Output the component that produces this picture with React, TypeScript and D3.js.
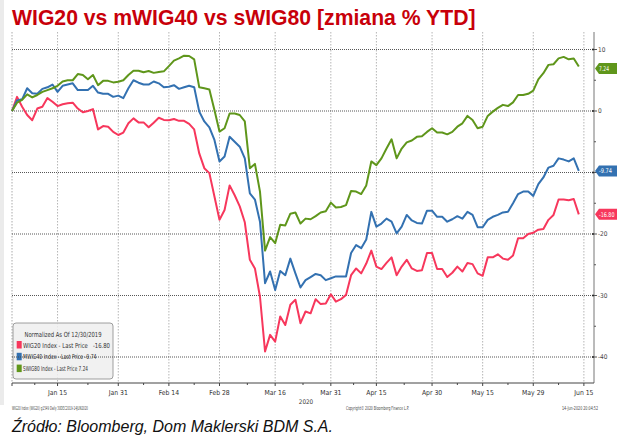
import React from "react";
import * as d3 from "d3";

// ---- data (trading days from 30 Dec 2019, normalized % change) ----
const START = "2019-12-30";
const END = "2020-06-17";
const HOLIDAYS = ["2019-12-31", "2020-01-01", "2020-01-06", "2020-04-10", "2020-04-13", "2020-05-01", "2020-06-11"];

const WIG20 = [
  0, 2.3, 0.7, -0.65, -1.5, 0.4, 0.7, 2.1, 1.5, 0.8, 1.1, 1.25, 1.35, 0.4, -0.2, 0, 0.3, -3.0, -2.45, -2.55,
  -3.4, -3.9, -3.5, -2.0, -1.2, -1.85, -1.85, -2.65, -1.9, -1.1, -1.45, -1.5, -1.3, -1.6, -1.6, -2.1, -3.0, -6.9, -9.3, -10.1,
  -13.9, -17.7, -16.1, -12.1, -13.7, -15.5, -18.1, -24.2, -25.6, -30.2, -39.1, -36.4, -37.5, -33.4, -34.8, -31.5, -30.7, -34.5, -32.6, -32.9,
  -30.6, -31.4, -31.3, -29.8, -31.0, -30.6, -29.9, -26.7, -25.6, -26.4, -24.8, -22.7, -25.3, -25.7, -24.7, -23.8, -26.7, -25.3, -24.2, -25.6,
  -26.0, -25.9, -23.1, -23.1, -25.7, -25.7, -27.0, -26.3, -25.3, -26.1, -24.7, -24.9, -26.4, -26.8, -23.8, -23.8, -23.3, -24.0, -24.2, -23.5,
  -20.7, -20.7, -20.0, -19.8, -19.3, -19.2, -17.7, -16.9, -14.4, -14.4, -14.5, -14.3, -16.8,
];
const MWIG40 = [
  0, 1.7, 1.9, 3.7, 2.9, 2.8, 3.6, 3.85, 4.3, 3.1, 4.1, 4.3, 4.5, 3.4, 3.4, 3.4, 4.1, 3.0, 2.8, 2.8,
  2.3, 2.5, 2.1, 3.7, 5.0, 4.6, 4.3, 4.3, 4.8, 4.5, 3.85, 3.95, 4.2, 3.6, 3.85, 4.1, 3.85, -0.1, -1.7, -2.65,
  -4.7, -8.2, -7.4, -4.2, -5.0, -5.8, -7.7, -13.4, -14.4, -18.0, -28.0, -26.1, -29.1, -26.0, -26.7, -24.0, -26.4, -28.7, -27.5, -27.0,
  -26.5, -26.7, -27.5, -27.2, -26.9, -26.9, -26.9, -23.1, -21.8, -22.3, -20.9, -16.4, -18.8, -18.3, -17.5, -18.0, -19.9, -18.8, -16.9, -17.8,
  -18.2, -18.3, -16.2, -16.2, -17.2, -17.2, -18.0, -17.6, -17.1, -17.5, -16.4, -16.9, -18.9, -18.9, -17.7, -17.2, -16.9, -16.5, -16.4, -15.0,
  -13.5, -13.1, -13.1, -13.8, -11.9, -10.8, -9.2, -8.9, -7.7, -7.9, -8.2, -7.7, -9.74,
];
const SWIG80 = [
  0, 1.35, 1.8, 2.7, 2.2, 2.6, 3.1, 3.4, 3.7, 4.1, 4.8, 5.0, 5.0, 6.0, 5.85, 5.15, 5.85, 4.2, 4.9, 4.9,
  4.65, 4.75, 5.0, 5.85, 6.55, 6.55, 6.3, 6.5, 6.2, 6.35, 6.45, 7.3, 8.2, 8.55, 9.0, 8.95, 8.4, 3.85, 3.7, 3.5,
  0.15, -3.35, -2.8, -0.4, -0.4, -0.65, -1.7, -9.3, -8.6, -13.1, -22.7, -20.5, -21.5, -18.5, -18.6, -16.7, -16.5, -18.3, -17.5, -17.6,
  -17.1, -16.5, -16.3, -14.9, -15.7, -15.6, -15.3, -13.0, -13.1, -13.5, -12.1, -8.2, -8.8, -7.7, -6.1, -4.6, -7.7, -6.1, -5.1, -4.8,
  -4.2, -4.1, -3.4, -2.8, -3.5, -3.5, -3.8, -3.4, -2.55, -2.0, -0.8, -1.45, -2.8, -2.55, -0.8, -0.1, 0.5, 1.0, 0.8, 1.4,
  2.6, 2.6, 2.8, 3.3, 5.15, 6.15, 7.5, 7.6, 8.55, 8.8, 8.4, 8.55, 7.24,
];

const SERIES_NAMES = ["WIG20 Index - Last Price", "MWIG40 Index - Last Price", "SWIG80 Index - Last Price"];
const LAST_LABELS = ["-16.80", "-9.74", "7.24"];
const TICK_DATES = ["2020-01-15", "2020-01-31", "2020-02-14", "2020-02-28", "2020-03-16", "2020-03-31", "2020-04-15", "2020-04-30", "2020-05-15", "2020-05-29", "2020-06-15"];
const Y_TICKS = [10, 0, -10, -20, -30, -40];
const Y_MINOR = [5, -5, -15, -25, -35];

const TITLE = "WIG20 vs mWIG40 vs sWIG80 [zmiana % YTD]";
const SOURCE = "Źródło: Bloomberg, Dom Maklerski BDM S.A.";

const COLORS = ["#f7375c", "#3371b1", "#5f961b"];

// trading-day calendar
const parse = d3.utcParse("%Y-%m-%d");
const fmtKey = d3.utcFormat("%Y-%m-%d");
const days: Date[] = d3.utcDays(parse(START)!, d3.utcDay.offset(parse(END)!, 1)).filter(
  (d) => d.getUTCDay() !== 0 && d.getUTCDay() !== 6 && !HOLIDAYS.includes(fmtKey(d))
);
const idxOf = (s: string) => days.findIndex((d) => fmtKey(d) === s);

export default function App() {
  const W = 617, H = 437;
  const left = 12, right = 594, top = 32, bottom = 383;
  const x = d3.scaleLinear().domain([0, days.length - 1]).range([left, right]);
  const y = d3.scaleLinear().domain([10, -40]).range([49.5, 357]);
  const line = d3.line<number>().x((_, i) => x(i)).y((v) => y(v));
  const tickIdx = TICK_DATES.map(idxOf);
  const fmtTick = d3.utcFormat("%b %-d");
  const minorIdx = [0, ...tickIdx].slice(0, -1).map((t, k) => (t + tickIdx[k]) / 2);
  const series = [WIG20, MWIG40, SWIG80];
  const small = "'DejaVu Sans Condensed', 'Liberation Sans Narrow', 'Liberation Sans', sans-serif";
  const rowLen = [87, 73.5, 65];
  const gaps = ["\u00A0\u00A0\u00A0", "\u00A0", "\u00A0"];
  const tagLen = [15.5, 13, 10];

  return (
    <svg width={W} height={H} style={{ position: "absolute", left: 0, top: 0, background: "#fff" }} fontFamily="'Liberation Sans', Arial, sans-serif">
      <rect x={0} y={0} width={4} height={405} fill="#ebebeb" />
      <text x={12} y={24.5} fontSize={21.2} fontWeight="bold" fill="#c8000a">{TITLE}</text>

      {/* vertical grid */}
      <line x1={left} x2={left} y1={top} y2={bottom} stroke="#aaa" strokeDasharray="1.5,1.5" />
      {tickIdx.map((t, k) => (
        <line key={k} x1={x(t)} x2={x(t)} y1={top} y2={bottom} stroke="#b5b5b5" strokeDasharray="1.5,1.5" />
      ))}

      {/* legend */}
      <g>
        <rect x={13} y={323} width={100} height={56} rx={3} fill="#efefef" fillOpacity={0.85} stroke="#888" strokeWidth={0.8} />
        <text x={63} y={337} textAnchor="middle" fontFamily={small} fontSize={7} fill="#333" textLength={77} lengthAdjust="spacingAndGlyphs">Normalized As Of 12/30/2019</text>
        {SERIES_NAMES.map((n, k) => (
          <g key={k}>
            <rect x={16.7} y={341 + k * 11.8} width={5} height={7.5} fill={COLORS[k]} />
            <text x={23} y={347.5 + k * 11.8} fontFamily={small} fontSize={6.8} fill="#333" textLength={rowLen[k]} lengthAdjust="spacingAndGlyphs">{n + gaps[k] + LAST_LABELS[k]}</text>
          </g>
        ))}
      </g>

      {/* horizontal grid */}
      {Y_TICKS.map((v) => (
        <line key={v} x1={left} x2={right} y1={y(v)} y2={y(v)} stroke="#444" strokeWidth={0.9} strokeDasharray="1,1" />
      ))}

      {/* series */}
      {series.map((s, k) => (
        <path key={k} d={line(s)!} fill="none" stroke={COLORS[k]} strokeWidth={2} strokeLinejoin="round" />
      ))}

      {/* right axis */}
      <line x1={right} x2={right} y1={top} y2={bottom} stroke="#777" strokeWidth={1} />
      {Y_TICKS.map((v) => (
        <g key={v}>
          <circle cx={right - 1} cy={y(v)} r={1} fill="#222" />
          <line x1={right} x2={right + 3} y1={y(v)} y2={y(v)} stroke="#555" />
          {v !== -10 && (
            <text x={598} y={y(v) + 2.3} fontFamily={small} fontSize={6.5} fill="#444">{v}</text>
          )}
        </g>
      ))}
      {Y_MINOR.map((v) => (
        <line key={v} x1={right} x2={right + 2} y1={y(v)} y2={y(v)} stroke="#555" />
      ))}

      {/* last value tags */}
      {series.map((s, k) => {
        const cy = y(s[s.length - 1]) + (k === 2 ? 2 : 0);
        return (
          <g key={k}>
            <polygon points={`595,${cy} 599,${cy - 5.5} 617,${cy - 5.5} 617,${cy + 5.5} 599,${cy + 5.5}`} fill={COLORS[k]} />
            <text x={599} y={cy + 2.4} fontFamily={small} fontSize={6.5} fill="#fff" textLength={tagLen[k]} lengthAdjust="spacingAndGlyphs">{LAST_LABELS[k]}</text>
          </g>
        );
      })}

      {/* x axis */}
      <line x1={left} x2={right} y1={bottom} y2={bottom} stroke="#444" strokeWidth={1} />
      <line x1={left} x2={left} y1={bottom} y2={bottom + 3} stroke="#444" />
      {tickIdx.map((t, k) => (
        <g key={k}>
          <line x1={x(t)} x2={x(t)} y1={bottom} y2={bottom + 3} stroke="#444" />
          <text x={x(t)} y={395} textAnchor="middle" fontFamily={small} fontSize={6.8} fill="#333">{fmtTick(days[t])}</text>
        </g>
      ))}
      {minorIdx.map((t, k) => (
        <line key={k} x1={x(t)} x2={x(t)} y1={bottom} y2={bottom + 2} stroke="#444" />
      ))}
      <text x={306} y={403.5} textAnchor="middle" fontFamily={small} fontSize={6.3} fill="#333">2020</text>

      {/* footer */}
      <text x={12} y={410} fontFamily={small} fontSize={5.5} fill="#444" textLength={76} lengthAdjust="spacingAndGlyphs">WIG20 Index (WIG20) g1549  Daily 30DEC2019-14JUN2020</text>
      <text x={346} y={410} fontFamily={small} fontSize={5.5} fill="#444" textLength={63} lengthAdjust="spacingAndGlyphs">Copyright© 2020 Bloomberg Finance L.P.</text>
      <text x={562} y={410} fontFamily={small} fontSize={5.5} fill="#444" textLength={36} lengthAdjust="spacingAndGlyphs">14-Jun-2020 20:04:52</text>
      <text x={12} y={432} fontSize={16} fontStyle="italic" fill="#111">{SOURCE}</text>
    </svg>
  );
}
